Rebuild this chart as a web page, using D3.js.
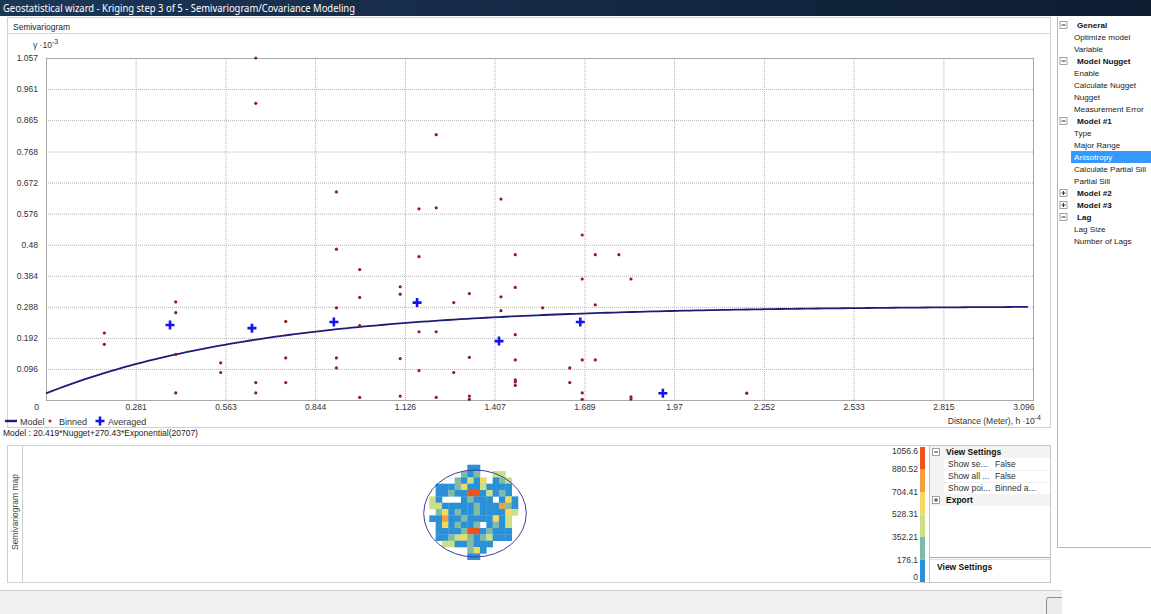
<html>
<head>
    <script src="https://d3js.org/d3.v7.min.js"></script>
</head>
<body>
<div id="graph"></div>
<script>
// ---- data ----
var xTickLabels = ["0", "0.281", "0.563", "0.844", "1.126", "1.407", "1.689", "1.97", "2.252", "2.533", "2.815", "3.096"];
var yTickLabels = ["0", "0.096", "0.192", "0.288", "0.384", "0.48", "0.576", "0.672", "0.768", "0.865", "0.961", "1.057"];

// binned semivariogram points (h * 10^-4, gamma * 10^-3)
var binnedH = [0.658, 0.658, 0.911, 0.911, 0.984, 0.984, 0.407, 0.407, 0.911, 0.752, 0.984, 0.183, 0.183, 0.407, 0.752, 0.911,
    0.548, 0.911, 0.548, 0.658, 0.752, 0.407, 0.658, 0.984,
    1.224, 1.170, 1.224, 1.427, 1.682, 1.170, 1.472, 1.723, 1.797, 1.682, 1.835, 1.111, 1.111, 1.472, 1.328, 1.427,
    1.279, 1.558, 1.427, 1.723, 1.170, 1.224, 1.472, 1.111, 1.328, 1.472, 1.682, 1.723, 1.170, 1.279, 1.643, 1.472,
    1.472, 1.472, 1.643, 1.111, 1.224, 1.328, 1.328, 1.682, 1.682, 1.835, 1.835, 2.198];
var binnedG = [1.057, 0.917, 0.643, 0.466, 0.403, 0.317, 0.303, 0.270, 0.285, 0.243, 0.230, 0.207, 0.172, 0.141, 0.130, 0.130,
    0.115, 0.099, 0.085, 0.054, 0.054, 0.022, 0.022, 0.008,
    0.820, 0.591, 0.594, 0.621, 0.510, 0.443, 0.449, 0.449, 0.449, 0.374, 0.374, 0.350, 0.327, 0.348, 0.329, 0.319,
    0.301, 0.285, 0.276, 0.294, 0.211, 0.211, 0.202, 0.128, 0.132, 0.124, 0.124, 0.124, 0.091, 0.085, 0.099, 0.062,
    0.056, 0.045, 0.054, 0.012, 0.008, 0.012, 0.002, 0.022, 0.002, 0.010, 0.003, 0.021];

var averagedH = [0.389, 0.646, 0.903, 1.164, 1.421, 1.676, 1.935];
var averagedG = [0.232, 0.222, 0.241, 0.301, 0.182, 0.241, 0.021];

// fitted model, as printed under the chart
var modelNugget = 20.419, modelPartialSill = 270.43, modelRange = 20707;
var modelLabel = "Model : 20.419*Nugget+270.43*Exponential(20707)";

// semivariogram map cells (null = no pair)
var mapValues = [
    [null, null, null, null, null, null, 95, 95, null, null, null, null, null, null],
    [null, null, null, null, null, 260, 95, 260, null, null, 440, 440, null, null],
    [null, null, null, null, 260, 95, 440, 95, 615, null, 95, 260, 440, null],
    [null, 95, 95, 95, 260, 615, 95, 95, 440, 95, 95, 95, 95, null],
    [null, 95, 95, 260, 95, 95, 965, 965, 95, 440, 95, 260, 95, null],
    [440, 95, null, null, null, 95, 260, 95, 95, 95, null, 95, 615, 95],
    [440, 440, 95, 95, 95, 95, 95, 260, 95, 95, 95, 790, 260, 95],
    [null, 260, 615, 95, 260, 95, 95, 260, 95, 95, 95, 95, 615, 440],
    [95, 95, 790, 95, 95, 260, 95, 95, 95, 95, 615, 95, 440, null],
    [null, 95, 615, 95, 260, 95, 95, 260, null, 95, 260, 95, 440, null],
    [null, 95, 95, 95, 95, 260, 965, 965, 95, 260, 95, 95, 95, null],
    [null, 95, 95, 260, 440, 615, 260, 95, 260, 440, 95, 95, 95, null],
    [null, null, 440, 440, 95, 95, 260, 95, 95, 95, null, null, null, null],
    [null, null, null, null, null, null, 260, 615, 95, null, null, null, null, null],
    [null, null, null, null, null, null, 95, 95, null, null, null, null, null, null]
];
var colorBreaks = [0, 176.1, 352.21, 528.31, 704.41, 880.52, 1056.6];
var colorBarLabels = ["0", "176.1", "352.21", "528.31", "704.41", "880.52", "1056.6"];
var classColors = ["#2b90d6", "#80bba6", "#cadf86", "#f3d862", "#f2a03a", "#e8541c"];

var propertyRows = [
    {t: "General", cat: "open"}, {t: "Optimize model"}, {t: "Variable"},
    {t: "Model Nugget", cat: "open"}, {t: "Enable"}, {t: "Calculate Nugget"}, {t: "Nugget"}, {t: "Measurement Error"},
    {t: "Model #1", cat: "open"}, {t: "Type"}, {t: "Major Range"}, {t: "Anisotropy", sel: true},
    {t: "Calculate Partial Sill"}, {t: "Partial Sill"},
    {t: "Model #2", cat: "closed"}, {t: "Model #3", cat: "closed"},
    {t: "Lag", cat: "open"}, {t: "Lag Size"}, {t: "Number of Lags"}
];
var viewSettingsRows = [
    {t: "View Settings", cat: "open"},
    {t: "Show se...", v: "False"},
    {t: "Show all ...", v: "False"},
    {t: "Show poi...", v: "Binned a..."},
    {t: "Export", cat: "closed"}
];

// ---- drawing ----
var W = 1151, H = 614;
var font = "'Liberation Sans', Arial, sans-serif";

var svg = d3.select("#graph").append("svg")
    .attr("width", W).attr("height", H)
    .style("display", "block")
    .style("font-family", font);

svg.append("rect").attr("width", W).attr("height", H).attr("fill", "#ffffff");

// title bar
var grad = svg.append("defs").append("linearGradient").attr("id", "titleGrad");
grad.append("stop").attr("offset", "0%").attr("stop-color", "#1c3657");
grad.append("stop").attr("offset", "100%").attr("stop-color", "#0d1c31");
svg.append("rect").attr("width", W).attr("height", 16).attr("fill", "url(#titleGrad)");
svg.append("text").attr("x", 3).attr("y", 12)
    .attr("fill", "#ffffff").attr("font-size", 11)
    .attr("font-family", "'Noto Sans', sans-serif")
    .attr("textLength", 352).attr("lengthAdjust", "spacingAndGlyphs")
    .text("Geostatistical wizard - Kriging step 3 of 5 - Semivariogram/Covariance Modeling");

// semivariogram group box
svg.append("rect").attr("x", 7.5).attr("y", 17.5).attr("width", 1043).attr("height", 410)
    .attr("fill", "none").attr("stroke", "#d2d2d2");
svg.append("line").attr("x1", 8).attr("x2", 1050).attr("y1", 33.5).attr("y2", 33.5).attr("stroke", "#d8d8d8");
svg.append("text").attr("x", 13).attr("y", 29.5).attr("font-size", 8.5).attr("fill", "#222").text("Semivariogram");

var plot = {left: 46, right: 1033, top: 58, bottom: 400};
var x = d3.scaleLinear().domain([0, 3.096]).range([plot.left, plot.right]);
var y = d3.scaleLinear().domain([0, 1.057]).range([plot.bottom, plot.top]);
var xVals = xTickLabels.map(Number);
var yVals = yTickLabels.map(Number);

// grid
var xGrid = svg.append("g").attr("transform", "translate(0," + plot.bottom + ")")
    .call(d3.axisBottom(x).tickValues(xVals.slice(1, -1)).tickSize(-(plot.bottom - plot.top)).tickFormat(""));
var yGrid = svg.append("g").attr("transform", "translate(" + plot.left + ",0)")
    .call(d3.axisLeft(y).tickValues(yVals.slice(1, -1)).tickSize(-(plot.right - plot.left)).tickFormat(""));
[xGrid, yGrid].forEach(function (g) {
    g.select(".domain").remove();
    g.selectAll(".tick line").attr("stroke", "#b4b4b4").attr("stroke-dasharray", "1,1");
});

svg.append("rect").attr("x", plot.left + 0.5).attr("y", plot.top + 0.5)
    .attr("width", plot.right - plot.left).attr("height", plot.bottom - plot.top)
    .attr("fill", "none").attr("stroke", "#a8a8a8");

// axes labels (the shared origin "0" is printed once, by the x axis)
var yAxis = svg.append("g").attr("transform", "translate(" + plot.left + ",0)")
    .call(d3.axisLeft(y).tickValues(yVals.slice(1)).tickSize(0).tickPadding(8)
        .tickFormat(function (d, i) { return yTickLabels[i + 1]; }));
yAxis.select(".domain").remove();
yAxis.selectAll("text").attr("font-size", 8.5).attr("font-family", font).attr("fill", "#333");

var xAxis = svg.append("g").attr("transform", "translate(0," + plot.bottom + ")")
    .call(d3.axisBottom(x).tickValues(xVals).tickSize(0).tickPadding(4)
        .tickFormat(function (d, i) { return xTickLabels[i]; }));
xAxis.select(".domain").remove();
xAxis.selectAll("text").attr("font-size", 8.5).attr("font-family", font).attr("fill", "#333");
xAxis.selectAll(".tick").filter(function (d, i) { return i === 0; }).select("text").attr("x", -10);
xAxis.selectAll(".tick").filter(function (d, i) { return i === xVals.length - 1; }).select("text")
    .attr("text-anchor", "end").attr("x", 1);

var yLab = svg.append("text").attr("x", 33).attr("y", 48).attr("font-size", 8.5).attr("fill", "#333");
yLab.append("tspan").text("\u03b3 \u00b710");
yLab.append("tspan").attr("dy", -4).attr("font-size", 7).text("-3");

var xLab = svg.append("text").attr("x", 1041).attr("y", 424).attr("font-size", 8.5)
    .attr("fill", "#333").attr("text-anchor", "end");
xLab.append("tspan").text("Distance (Meter), h \u00b710");
xLab.append("tspan").attr("dy", -4).attr("font-size", 7).text("-4");

// model curve
var modelPts = d3.range(0, 3.1, 0.02).map(function (h) {
    return [h, (modelNugget + modelPartialSill * (1 - Math.exp(-3 * h * 1e4 / modelRange))) / 1000];
});
svg.append("path").datum(modelPts)
    .attr("d", d3.line().x(function (d) { return x(d[0]); }).y(function (d) { return y(d[1]); }))
    .attr("fill", "none").attr("stroke", "#1c1c7a").attr("stroke-width", 1.8);

// binned points
svg.append("g").selectAll("circle").data(binnedH).enter().append("circle")
    .attr("cx", function (d) { return x(d); })
    .attr("cy", function (d, i) { return y(binnedG[i]); })
    .attr("r", 1.6).attr("fill", "#8e1c28");

// averaged crosses
var crossPath = "M-4.5,0H4.5M0,-4.5V4.5";
svg.append("g").selectAll("path").data(averagedH).enter().append("path")
    .attr("transform", function (d, i) { return "translate(" + x(d) + "," + y(averagedG[i]) + ")"; })
    .attr("d", crossPath).attr("stroke", "#1414f0").attr("stroke-width", 2.6);

// legend
var lg = svg.append("g").attr("font-size", 9).attr("fill", "#333");
lg.append("line").attr("x1", 5).attr("x2", 17).attr("y1", 421).attr("y2", 421).attr("stroke", "#1c1c7a").attr("stroke-width", 2.4);
lg.append("text").attr("x", 20).attr("y", 424.5).text("Model");
lg.append("circle").attr("cx", 50).attr("cy", 421).attr("r", 1.6).attr("fill", "#c0303a");
lg.append("text").attr("x", 59).attr("y", 424.5).text("Binned");
lg.append("path").attr("transform", "translate(100,421)").attr("d", crossPath).attr("stroke", "#1414f0").attr("stroke-width", 2.6);
lg.append("text").attr("x", 108).attr("y", 424.5).text("Averaged");

svg.append("text").attr("x", 3).attr("y", 436).attr("font-size", 8.5).attr("fill", "#222").text(modelLabel);

// ---- semivariogram map panel ----
svg.append("rect").attr("x", 7.5).attr("y", 445.5).attr("width", 1043).attr("height", 137)
    .attr("fill", "#ffffff").attr("stroke", "#cfcfcf");
svg.append("line").attr("x1", 22.5).attr("x2", 22.5).attr("y1", 446).attr("y2", 582).attr("stroke", "#cfcfcf");
svg.append("text").attr("transform", "translate(18,512) rotate(-90)")
    .attr("text-anchor", "middle").attr("font-size", 8.5).attr("fill", "#444").text("Semivariogram map");

var color = d3.scaleThreshold().domain(colorBreaks.slice(1, -1)).range(classColors);
var col = d3.scaleBand().domain(d3.range(mapValues[0].length)).range([429.3, 518]);
var row = d3.scaleBand().domain(d3.range(mapValues.length)).range([464.7, 559.7]);
var mapG = svg.append("g");
mapValues.forEach(function (r, ri) {
    mapG.selectAll(null).data(r.map(function (v, ci) { return {v: v, c: ci}; }).filter(function (d) { return d.v !== null; }))
        .enter().append("rect")
        .attr("x", function (d) { return col(d.c); })
        .attr("y", row(ri))
        .attr("width", col.bandwidth() + 0.3)
        .attr("height", row.bandwidth() + 0.3)
        .attr("fill", function (d) { return color(d.v); });
});
svg.append("ellipse").attr("cx", 475).attr("cy", 513.5).attr("rx", 51.3).attr("ry", 43.5)
    .attr("fill", "none").attr("stroke", "#3f3f9e").attr("stroke-width", 1);

// colour bar
var cb = d3.scaleLinear().domain([0, 1056.6]).range([582, 447]);
svg.append("g").selectAll("rect").data(classColors).enter().append("rect")
    .attr("x", 920).attr("width", 5)
    .attr("y", function (d, i) { return cb(colorBreaks[i + 1]); })
    .attr("height", function (d, i) { return cb(colorBreaks[i]) - cb(colorBreaks[i + 1]); })
    .attr("fill", function (d) { return d; });
svg.append("g").selectAll("text").data(colorBarLabels).enter().append("text")
    .attr("x", 918).attr("text-anchor", "end").attr("font-size", 8.5).attr("fill", "#333")
    .attr("y", function (d, i) { return Math.max(454, Math.min(580, cb(colorBreaks[i]) + 3)); })
    .text(function (d) { return d; });

// expander icon
function expander(g, cx, cy, open) {
    g.append("rect").attr("x", cx - 3.5).attr("y", cy - 3.5).attr("width", 7).attr("height", 7)
        .attr("fill", "#fff").attr("stroke", "#8c8c8c").attr("stroke-width", 0.8);
    g.append("line").attr("x1", cx - 2).attr("x2", cx + 2).attr("y1", cy).attr("y2", cy).attr("stroke", "#333");
    if (!open) g.append("line").attr("x1", cx).attr("x2", cx).attr("y1", cy - 2).attr("y2", cy + 2).attr("stroke", "#333");
}

// view settings property grid
var vs = svg.append("g").attr("font-size", 8.5);
vs.append("rect").attr("x", 929.5).attr("y", 445.5).attr("width", 121).attr("height", 137)
    .attr("fill", "#fff").attr("stroke", "#c4c4c4");
vs.append("rect").attr("x", 930).attr("y", 446).attr("width", 14).attr("height", 60).attr("fill", "#f3f3f3");
viewSettingsRows.forEach(function (r, i) {
    var cy = 452 + i * 12;
    if (r.cat) {
        vs.append("rect").attr("x", 930).attr("y", cy - 6).attr("width", 120).attr("height", 12).attr("fill", "#f3f3f3");
        expander(vs, 936, cy, r.cat === "open");
        vs.append("text").attr("x", 946).attr("y", cy + 3).attr("font-weight", "bold").attr("fill", "#111").text(r.t);
    } else {
        vs.append("text").attr("x", 948).attr("y", cy + 3).attr("fill", "#333").text(r.t);
        vs.append("text").attr("x", 995).attr("y", cy + 3).attr("fill", "#333").text(r.v);
        vs.append("line").attr("x1", 944).attr("x2", 1050).attr("y1", cy + 6.5).attr("y2", cy + 6.5).attr("stroke", "#f0f0f0");
    }
});
vs.append("line").attr("x1", 930).attr("x2", 1050).attr("y1", 557.5).attr("y2", 557.5).attr("stroke", "#a8a8a8");
vs.append("line").attr("x1", 930).attr("x2", 1050).attr("y1", 559.5).attr("y2", 559.5).attr("stroke", "#e0e0e0");
vs.append("text").attr("x", 937).attr("y", 570).attr("font-weight", "bold").attr("fill", "#111").text("View Settings");

// right property grid
var pg = svg.append("g").attr("font-size", 8.1);
pg.append("line").attr("x1", 1057.5).attr("x2", 1057.5).attr("y1", 17).attr("y2", 547.5).attr("stroke", "#b8b8b8");
pg.append("line").attr("x1", 1057.5).attr("x2", W).attr("y1", 547.5).attr("y2", 547.5).attr("stroke", "#b8b8b8");
propertyRows.forEach(function (r, i) {
    var cy = 25 + i * 12;
    if (r.cat) {
        expander(pg, 1063.5, cy, r.cat === "open");
        pg.append("text").attr("x", 1077).attr("y", cy + 3).attr("font-weight", "bold").attr("fill", "#111").text(r.t);
    } else {
        if (r.sel) pg.append("rect").attr("x", 1071).attr("y", cy - 6).attr("width", W - 1071).attr("height", 12).attr("fill", "#3399ff");
        pg.append("text").attr("x", 1074).attr("y", cy + 3).attr("fill", r.sel ? "#fff" : "#222").text(r.t);
    }
});

// bottom button strip
svg.append("rect").attr("x", 0).attr("y", 590).attr("width", 1062).attr("height", 24).attr("fill", "#f0f0f0");
svg.append("line").attr("x1", 0).attr("x2", 1062).attr("y1", 590.5).attr("y2", 590.5).attr("stroke", "#d2d2d2");
svg.append("rect").attr("x", 1046.5).attr("y", 597.5).attr("width", 30).attr("height", 19).attr("rx", 2)
    .attr("fill", "#ececec").attr("stroke", "#8a8a8a");
svg.append("rect").attr("x", 1062).attr("y", 548).attr("width", W - 1062).attr("height", H - 548).attr("fill", "#ffffff");
</script>
<style>
    body {
        margin: 0;
    }
</style>
</body>
</html>
